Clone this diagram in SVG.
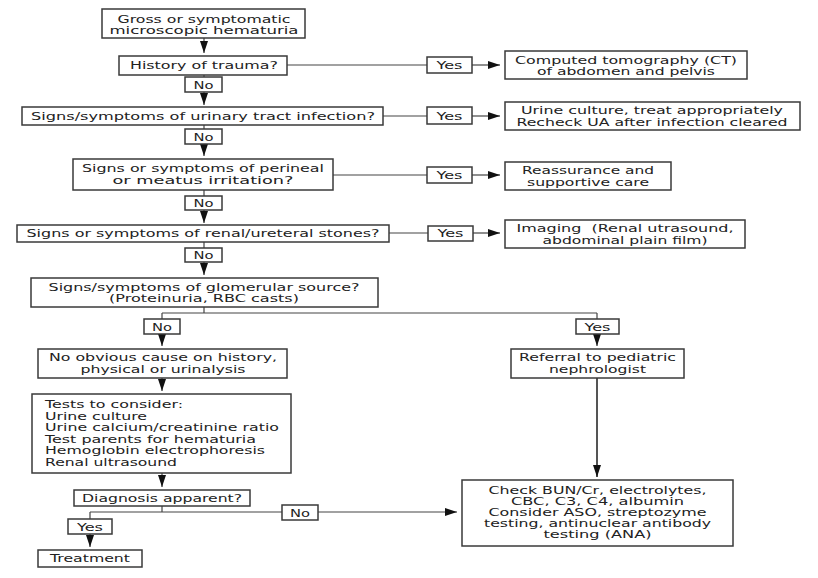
<svg xmlns="http://www.w3.org/2000/svg" width="818" height="578" viewBox="0 0 818 578">
<defs>
<marker id="ah" markerWidth="12" markerHeight="9" refX="12" refY="4.5" orient="auto" markerUnits="userSpaceOnUse">
<path d="M0,0.5 L12,4.5 L0,8.5 z" fill="#111"/>
</marker>
</defs>
<style>
rect{fill:#fff;stroke:#3a3a3a;stroke-width:1.5}
text{font-family:"DejaVu Sans",Verdana,sans-serif;font-size:10.5px;fill:#222;text-anchor:middle}
.l{text-anchor:start}
.c path{fill:none;stroke:#444;stroke-width:1.2}
.a{marker-end:url(#ah)}
</style>
<rect x="0" y="0" width="818" height="578" style="fill:#fff;stroke:none"/>
<g class="c" id="connectors">
<path class="a" d="M204,38 V53"/>
<path d="M287,65 H427"/><path class="a" d="M472,65 H500"/>
<path d="M204,75 V77"/><path class="a" d="M204,92 V105"/>
<path d="M383,116 H427"/><path class="a" d="M472,116 H500"/>
<path d="M204,125 V129"/><path class="a" d="M204,144 V156"/>
<path d="M333,175 H427"/><path class="a" d="M472,175 H500"/>
<path d="M204,190 V196"/><path class="a" d="M204,210 V223"/>
<path d="M389,233 H428"/><path class="a" d="M473,233 H500"/>
<path d="M204,242 V248"/><path class="a" d="M204,262 V275"/>
<path d="M204,307 V313 M162,313 H597 M162,313 V319 M597,313 V319"/>
<path class="a" d="M162,334 V346"/><path class="a" d="M597,334 V346"/>
<path class="a" d="M162,378 V391"/>
<path class="a" d="M597,378 V477" style="stroke-width:2;stroke:#555"/>
<path class="a" d="M162,473 V487"/>
<path d="M162,506 V512 M90,512 H282 M90,512 V519"/>
<path class="a" d="M318,512 H457"/>
<path class="a" d="M90,534 V547"/>
</g>
<g id="n-start"><rect x="102" y="9" width="203" height="29"/>
<text x="204" y="22.5" textLength="173" lengthAdjust="spacingAndGlyphs">Gross or symptomatic</text>
<text x="204" y="34" textLength="189" lengthAdjust="spacingAndGlyphs">microscopic hematuria</text></g>
<g id="n-trauma"><rect x="119" y="56" width="168" height="19"/>
<text x="204" y="69" textLength="148" lengthAdjust="spacingAndGlyphs">History of trauma?</text></g>
<g id="l-no1"><rect x="185" y="77" width="37" height="15"/><text x="203.5" y="88.5" textLength="20" lengthAdjust="spacingAndGlyphs">No</text></g>
<g id="l-yes1"><rect x="427" y="57" width="45" height="16"/><text x="449.5" y="69" textLength="26" lengthAdjust="spacingAndGlyphs">Yes</text></g>
<g id="n-ct"><rect x="505" y="51" width="242" height="28"/>
<text x="626" y="63.5" textLength="222" lengthAdjust="spacingAndGlyphs">Computed tomography (CT)</text>
<text x="626" y="75" textLength="178" lengthAdjust="spacingAndGlyphs">of abdomen and pelvis</text></g>
<g id="n-uti"><rect x="22" y="107" width="361" height="18"/>
<text x="203" y="119.5" textLength="344" lengthAdjust="spacingAndGlyphs">Signs/symptoms of urinary tract infection?</text></g>
<g id="l-yes2"><rect x="427" y="107" width="45" height="17"/><text x="449.5" y="119.5" textLength="26" lengthAdjust="spacingAndGlyphs">Yes</text></g>
<g id="n-culture"><rect x="505" y="102" width="295" height="28"/>
<text x="652" y="114" textLength="262" lengthAdjust="spacingAndGlyphs">Urine culture, treat appropriately</text>
<text x="652" y="125.5" textLength="271" lengthAdjust="spacingAndGlyphs">Recheck UA after infection cleared</text></g>
<g id="l-no2"><rect x="185" y="129" width="37" height="15"/><text x="203.5" y="140.5" textLength="20" lengthAdjust="spacingAndGlyphs">No</text></g>
<g id="n-perineal"><rect x="73" y="159" width="260" height="31"/>
<text x="203" y="172" textLength="242" lengthAdjust="spacingAndGlyphs">Signs or symptoms of perineal</text>
<text x="203" y="184" textLength="181" lengthAdjust="spacingAndGlyphs">or meatus irritation?</text></g>
<g id="l-yes3"><rect x="427" y="167" width="45" height="16"/><text x="449.5" y="179" textLength="26" lengthAdjust="spacingAndGlyphs">Yes</text></g>
<g id="n-reassure"><rect x="505" y="162" width="166" height="28"/>
<text x="588" y="174" textLength="132" lengthAdjust="spacingAndGlyphs">Reassurance and</text>
<text x="588" y="185.5" textLength="122" lengthAdjust="spacingAndGlyphs">supportive care</text></g>
<g id="l-no3"><rect x="185" y="196" width="37" height="14"/><text x="203.5" y="207" textLength="20" lengthAdjust="spacingAndGlyphs">No</text></g>
<g id="n-stones"><rect x="17" y="225" width="372" height="17"/>
<text x="203" y="237" textLength="353" lengthAdjust="spacingAndGlyphs">Signs or symptoms of renal/ureteral stones?</text></g>
<g id="l-yes4"><rect x="428" y="226" width="45" height="15"/><text x="450.5" y="237" textLength="26" lengthAdjust="spacingAndGlyphs">Yes</text></g>
<g id="n-imaging"><rect x="505" y="220" width="240" height="28"/>
<text x="625" y="232" textLength="217" lengthAdjust="spacingAndGlyphs" xml:space="preserve">Imaging  (Renal utrasound,</text>
<text x="625" y="243.5" textLength="165" lengthAdjust="spacingAndGlyphs">abdominal plain film)</text></g>
<g id="l-no4"><rect x="185" y="248" width="37" height="14"/><text x="203.5" y="259" textLength="20" lengthAdjust="spacingAndGlyphs">No</text></g>
<g id="n-glom"><rect x="31" y="278" width="347" height="29"/>
<text x="204" y="290.5" textLength="311" lengthAdjust="spacingAndGlyphs">Signs/symptoms of glomerular source?</text>
<text x="204" y="302" textLength="190" lengthAdjust="spacingAndGlyphs">(Proteinuria, RBC casts)</text></g>
<g id="l-no5"><rect x="144" y="319" width="36" height="15"/><text x="162" y="330.5" textLength="20" lengthAdjust="spacingAndGlyphs">No</text></g>
<g id="l-yes5"><rect x="576" y="319" width="43" height="15"/><text x="597.5" y="330.5" textLength="26" lengthAdjust="spacingAndGlyphs">Yes</text></g>
<g id="n-noobvious"><rect x="38" y="349" width="249" height="29"/>
<text x="163" y="361" textLength="228" lengthAdjust="spacingAndGlyphs">No obvious cause on history,</text>
<text x="163" y="372.5" textLength="165" lengthAdjust="spacingAndGlyphs">physical or urinalysis</text></g>
<g id="n-referral"><rect x="511" y="349" width="173" height="29"/>
<text x="597.5" y="361" textLength="157" lengthAdjust="spacingAndGlyphs">Referral to pediatric</text>
<text x="597.5" y="372.5" textLength="97" lengthAdjust="spacingAndGlyphs">nephrologist</text></g>
<g id="n-tests"><rect x="32" y="394" width="259" height="79"/>
<text class="l" x="45" y="408" textLength="138" lengthAdjust="spacingAndGlyphs">Tests to consider:</text>
<text class="l" x="45" y="419.5" textLength="102" lengthAdjust="spacingAndGlyphs">Urine culture</text>
<text class="l" x="45" y="431" textLength="234" lengthAdjust="spacingAndGlyphs">Urine calcium/creatinine ratio</text>
<text class="l" x="45" y="442.5" textLength="211" lengthAdjust="spacingAndGlyphs">Test parents for hematuria</text>
<text class="l" x="45" y="454" textLength="220" lengthAdjust="spacingAndGlyphs">Hemoglobin electrophoresis</text>
<text class="l" x="45" y="465.5" textLength="132" lengthAdjust="spacingAndGlyphs">Renal ultrasound</text></g>
<g id="n-diag"><rect x="74" y="490" width="176" height="16"/>
<text x="162" y="501.5" textLength="160" lengthAdjust="spacingAndGlyphs">Diagnosis apparent?</text></g>
<g id="l-no6"><rect x="282" y="505" width="36" height="15"/><text x="300" y="516.5" textLength="20" lengthAdjust="spacingAndGlyphs">No</text></g>
<g id="l-yes6"><rect x="68" y="519" width="44" height="15"/><text x="90" y="530.5" textLength="26" lengthAdjust="spacingAndGlyphs">Yes</text></g>
<g id="n-treat"><rect x="38" y="550" width="104" height="17"/>
<text x="90" y="562" textLength="80" lengthAdjust="spacingAndGlyphs">Treatment</text></g>
<g id="n-check"><rect x="462" y="480" width="271" height="66"/>
<text x="597.5" y="493.5" textLength="218" lengthAdjust="spacingAndGlyphs">Check BUN/Cr, electrolytes,</text>
<text x="597.5" y="504.5" textLength="173" lengthAdjust="spacingAndGlyphs">CBC, C3, C4, albumin</text>
<text x="597.5" y="515.5" textLength="218" lengthAdjust="spacingAndGlyphs">Consider ASO, streptozyme</text>
<text x="597.5" y="526.5" textLength="227" lengthAdjust="spacingAndGlyphs">testing, antinuclear antibody</text>
<text x="597.5" y="537.5" textLength="108" lengthAdjust="spacingAndGlyphs">testing (ANA)</text></g>
</svg>
